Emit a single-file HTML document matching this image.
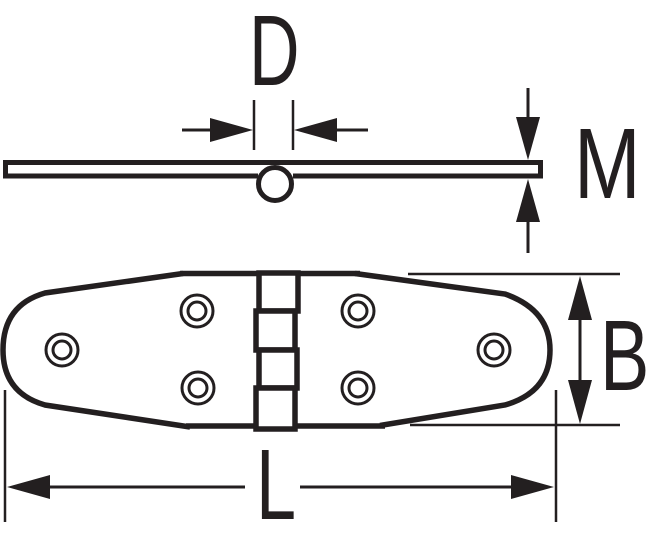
<!DOCTYPE html>
<html><head><style>html,body{margin:0;padding:0;background:#fff}svg{display:block}</style></head>
<body>
<svg width="657" height="543" viewBox="0 0 657 543" xmlns="http://www.w3.org/2000/svg">
<g fill="none" stroke="#231f20">
<path d="M258,176 L5.5,176 L5.5,162.5 L540.5,162.5 L540.5,176 L293,176" stroke-width="5"/>
<circle cx="275" cy="184" r="16.5" stroke-width="5" fill="#fff"/>
<line x1="254" y1="100" x2="254" y2="150" stroke-width="2.5"/>
<line x1="293" y1="100" x2="293" y2="150" stroke-width="2.5"/>
<line x1="182" y1="130" x2="215" y2="130" stroke-width="3"/>
<line x1="332" y1="130" x2="368" y2="130" stroke-width="3"/>
<line x1="528" y1="88" x2="528" y2="120" stroke-width="3"/>
<line x1="528" y1="215" x2="528" y2="253" stroke-width="3"/>
<path d="M183,273.5 L45,293 Q3,305 3,350 Q3,393 45,405 L190,427" stroke-width="5.5"/>
<path d="M355,273.5 L505,294 Q550,310 550,350 Q550,392 505,405 L380,425.5" stroke-width="5.5"/>
<line x1="180" y1="273.5" x2="360" y2="273.5" stroke-width="5.5"/>
<line x1="186" y1="426" x2="385" y2="426" stroke-width="5.5"/>
<rect x="259" y="273" width="39" height="38" stroke-width="5.5" fill="#fff"/>
<rect x="256" y="311" width="39" height="39" stroke-width="5.5" fill="#fff"/>
<rect x="259" y="350" width="38" height="38" stroke-width="5.5" fill="#fff"/>
<rect x="256" y="388" width="39" height="41" stroke-width="5.5" fill="#fff"/>
<g stroke-width="3">
<circle cx="62" cy="350" r="16"/><circle cx="62" cy="350" r="9"/>
<circle cx="197" cy="311" r="16"/><circle cx="197" cy="311" r="9"/>
<circle cx="198" cy="388" r="16"/><circle cx="198" cy="388" r="9"/>
<circle cx="358" cy="311" r="16"/><circle cx="358" cy="311" r="9"/>
<circle cx="358" cy="388" r="16"/><circle cx="358" cy="388" r="9"/>
<circle cx="494" cy="350" r="16"/><circle cx="494" cy="350" r="9"/>
</g>
<line x1="408" y1="274" x2="620" y2="274" stroke-width="2.5"/>
<line x1="410" y1="425" x2="620" y2="425" stroke-width="2.5"/>
<line x1="580" y1="300" x2="580" y2="400" stroke-width="3"/>
<line x1="5" y1="390" x2="5" y2="522" stroke-width="2.5"/>
<line x1="556" y1="390" x2="556" y2="522" stroke-width="2.5"/>
<line x1="40" y1="487" x2="245" y2="487" stroke-width="3"/>
<line x1="300" y1="487" x2="520" y2="487" stroke-width="3"/>
</g>
<g fill="#231f20">
<polygon points="253,130 210,118 210,142"/>
<polygon points="294,130 337,118 337,142"/>
<polygon points="528,160 516,117 540,117"/>
<polygon points="528,179 516,222 540,222"/>
<polygon points="580,276 568,320 592,320"/>
<polygon points="580,424 568,380 592,380"/>
<polygon points="7,487 50,475 50,499"/>
<polygon points="554,487 511,475 511,499"/>
</g>
<g font-family="'Liberation Sans', sans-serif" fill="#231f20" font-size="100">
<text transform="translate(249,85) scale(0.7,1)">D</text>
<text transform="translate(574,198) scale(0.8,1)">M</text>
<text transform="translate(600,390) scale(0.74,1)">B</text>
<text transform="translate(256,519) scale(0.72,1)">L</text>
</g>
</svg>
</body></html>
